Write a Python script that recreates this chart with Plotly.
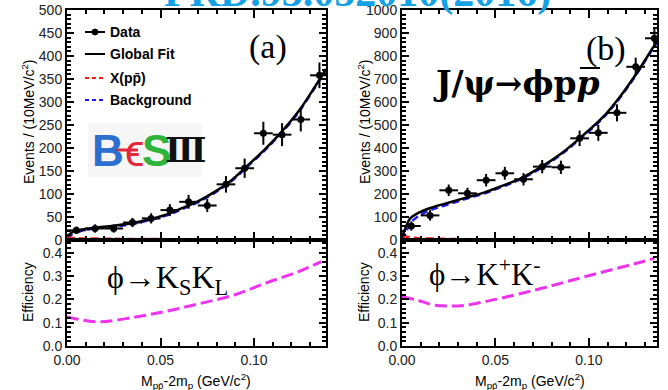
import plotly.graph_objects as go

W, H = 668, 390

# ---------------- spectra: events per 10 MeV/c^2 ----------------
bin_centers = [0.005, 0.015, 0.025, 0.035, 0.045, 0.055, 0.065,
               0.075, 0.085, 0.095, 0.105, 0.115, 0.125, 0.135]
bin_half_width = 0.005

events_kskl = [21, 25, 25, 38, 47, 65, 83, 75, 121, 156, 232, 229, 262, 358]
errors_kskl = [8, 9, 9, 10, 11, 13, 15, 14, 18, 21, 25, 25, 26, 28]

events_kk = [61, 107, 216, 203, 260, 290, 264, 319, 316, 442, 466, 553, 753, 877]
errors_kk = [20, 23, 25, 24, 27, 28, 27, 29, 29, 34, 35, 37, 40, 40]

# ---------------- fit components, phi -> Ks Kl ----------------
fit_x_kskl = [0.000, 0.003, 0.008, 0.015, 0.025, 0.035, 0.045, 0.055, 0.0608,
              0.070, 0.0787, 0.088, 0.0966, 0.1055, 0.1145, 0.1235, 0.1324, 0.1385]
fit_kskl = [8, 17, 23, 27, 31, 37, 46, 58, 68, 84, 104, 130, 162, 196, 234, 278, 332, 372]
bkg_kskl = [3, 13, 20, 25, 29, 35, 44, 56, 66, 82, 102, 128, 160, 194, 232, 276, 330, 370]
sig_kskl = [6, 4.5, 3.5, 3, 2.5, 2.2, 2, 1.8, 1.7, 1.6, 1.5, 1.4, 1.3, 1.2, 1.1, 1.0, 1.0, 0.9]

# ---------------- fit components, phi -> K+ K- ----------------
fit_x_kk = [0.000, 0.002, 0.0043, 0.0096, 0.0167, 0.0257, 0.0346, 0.0435, 0.0524,
            0.063, 0.0747, 0.085, 0.095, 0.1077, 0.1166, 0.1255, 0.1345, 0.1364]
fit_kk = [12, 55, 93, 121, 143, 164, 185, 205, 232, 266, 319, 375, 442, 536, 623, 725, 840, 864]
bkg_kk = [0, 30, 72, 108, 134, 157, 180, 201, 228, 262, 315, 371, 438, 532, 619, 721, 836, 860]
sig_kk = [18, 15, 12, 8, 6, 4.5, 3.5, 2.8, 2.2, 1.8, 1.4, 1.2, 1.0, 0.8, 0.7, 0.6, 0.5, 0.5]

# ---------------- selection efficiency ----------------
eff_x_kskl = [0.000, 0.005, 0.0177, 0.0357, 0.0536, 0.0715, 0.0894, 0.107, 0.125, 0.136]
eff_kskl = [0.126, 0.116, 0.104, 0.123, 0.150, 0.183, 0.219, 0.272, 0.323, 0.362]

eff_x_kk = [0.000, 0.0082, 0.017, 0.026, 0.035, 0.044, 0.053, 0.071, 0.088, 0.106, 0.124, 0.135]
eff_kk = [0.212, 0.197, 0.176, 0.172, 0.176, 0.190, 0.205, 0.240, 0.276, 0.315, 0.352, 0.376]

# ---------------- axis ranges ----------------
x_range_kskl = [0, 0.1385]
x_range_kk = [0, 0.1364]
y_range_kskl = [0, 500]
y_range_kk = [0, 1000]
eff_range = [0, 0.455]


def fx(px):
    return px / W


def fy(py):
    return 1 - py / H


FRAME = dict(showline=True, linecolor="black", linewidth=2, mirror="ticks",
             ticks="inside", tickcolor="black", tickwidth=1.5,
             showgrid=False, zeroline=False,
             tickfont=dict(family="Liberation Sans, Arial", size=14, color="#222"))

fig = go.Figure()

panels = [
    ("x", "y", fit_x_kskl, fit_kskl, bkg_kskl, sig_kskl, events_kskl, errors_kskl),
    ("x3", "y3", fit_x_kk, fit_kk, bkg_kk, sig_kk, events_kk, errors_kk),
]
for xa, ya, fxs, fit, bkg, sig, ev, er in panels:
    fig.add_trace(go.Scatter(x=fxs, y=bkg, mode="lines", xaxis=xa, yaxis=ya,
                             line=dict(color="#1a1aff", width=2.5, dash="7px,4px", shape="spline"),
                             showlegend=False))
    fig.add_trace(go.Scatter(x=fxs, y=sig, mode="lines", xaxis=xa, yaxis=ya,
                             line=dict(color="#ff1a1a", width=2.5, dash="8px,4px", shape="spline"),
                             showlegend=False))
    fig.add_trace(go.Scatter(x=fxs, y=fit, mode="lines", xaxis=xa, yaxis=ya,
                             line=dict(color="black", width=2.5, shape="spline"),
                             showlegend=False))
    fig.add_trace(go.Scatter(x=bin_centers, y=ev, mode="markers", xaxis=xa, yaxis=ya,
                             marker=dict(color="black", size=7),
                             error_x=dict(type="constant", value=bin_half_width, width=0,
                                          thickness=2, color="black"),
                             error_y=dict(type="data", array=er, width=0,
                                          thickness=2, color="black"),
                             showlegend=False))

for xa, ya, ex, ey in [("x2", "y2", eff_x_kskl, eff_kskl), ("x4", "y4", eff_x_kk, eff_kk)]:
    fig.add_trace(go.Scatter(x=ex, y=ey, mode="lines", xaxis=xa, yaxis=ya,
                             line=dict(color="#ee33ee", width=3, dash="12px,5px", shape="spline"),
                             showlegend=False))

left_dom = [fx(67), fx(326)]
right_dom = [fx(402), fx(657)]
upper_dom = [fy(240), fy(10)]
lower_dom = [fy(346), fy(240)]

xminor = dict(ticks="inside", dtick=0.01, ticklen=4, tickcolor="black")

fig.update_layout(
    width=W, height=H, margin=dict(l=0, r=0, t=0, b=0, autoexpand=False),
    paper_bgcolor="white", plot_bgcolor="white",
    xaxis=dict(FRAME, domain=left_dom, range=x_range_kskl, anchor="y", dtick=0.05,
               ticklen=8, minor=xminor, showticklabels=False),
    yaxis=dict(FRAME, domain=upper_dom, range=y_range_kskl, anchor="x", dtick=50,
               ticklen=7, minor=dict(ticks="inside", dtick=10, ticklen=4, tickcolor="black")),
    xaxis2=dict(FRAME, domain=left_dom, range=x_range_kskl, anchor="y2", dtick=0.05,
                ticklen=8, minor=xminor, tickformat=".2f"),
    yaxis2=dict(FRAME, domain=lower_dom, range=eff_range, anchor="x2", dtick=0.1,
                ticklen=7, tickformat=".1f",
                minor=dict(ticks="inside", dtick=0.02, ticklen=4, tickcolor="black")),
    xaxis3=dict(FRAME, domain=right_dom, range=x_range_kk, anchor="y3", dtick=0.05,
                ticklen=8, minor=xminor, showticklabels=False),
    yaxis3=dict(FRAME, domain=upper_dom, range=y_range_kk, anchor="x3", dtick=100,
                ticklen=7, minor=dict(ticks="inside", dtick=20, ticklen=4, tickcolor="black")),
    xaxis4=dict(FRAME, domain=right_dom, range=x_range_kk, anchor="y4", dtick=0.05,
                ticklen=8, minor=xminor, tickformat=".2f"),
    yaxis4=dict(FRAME, domain=lower_dom, range=eff_range, anchor="x4", dtick=0.1,
                ticklen=7, tickformat=".1f",
                minor=dict(ticks="inside", dtick=0.02, ticklen=4, tickcolor="black")),
)

SANS = "Liberation Sans, Arial"
SERIF = "Liberation Serif, DejaVu Serif, serif"
WIDE_SERIF = "DejaVu Serif, serif"
ann = []
shapes = []


def text(px, py, s, size, family=SANS, color="black", angle=0, xanchor="center", yanchor="middle"):
    ann.append(dict(x=fx(px), y=fy(py), xref="paper", yref="paper", text=s,
                    showarrow=False, textangle=angle, xanchor=xanchor, yanchor=yanchor,
                    font=dict(family=family, size=size, color=color)))


def hline(x0, x1, y, color, width, dash="solid"):
    shapes.append(dict(type="line", xref="paper", yref="paper", x0=fx(x0), x1=fx(x1),
                       y0=fy(y), y1=fy(y), line=dict(color=color, width=width, dash=dash)))


# axis titles
for cx in (28, 364):
    text(cx, 122, "Events / (10MeV/c<sup>2</sup>)", 14, angle=-90)
    text(cx, 292, "Efficiency", 14, angle=-90)
text(196, 381, "M<sub>pp\u0304</sub>-2m<sub>p</sub> (GeV/c<sup>2</sup>)", 14)
text(530, 381, "M<sub>pp\u0304</sub>-2m<sub>p</sub> (GeV/c<sup>2</sup>)", 14)

# publication reference along the top edge
text(357, 18, "<b>PRD.93.052010(2016)</b>", 42, family=SERIF, color="#14a2e6", yanchor="bottom")

# panel labels
text(268, 47, "(a)", 34, family=SERIF)
text(606, 49, "(b)", 34, family=SERIF)
text(602, 83, "<b>J/\u03c8\u2192\u03d5p<i>p</i></b>", 33, family=WIDE_SERIF, xanchor="right")
hline(580, 600, 68, "black", 2)
text(105, 279, "\u03d5\u2192K<sub>S</sub>K<sub>L</sub>", 32, family=SERIF, xanchor="left")
text(427, 272, "\u03d5\u2192K<sup>+</sup>K<sup>-</sup>", 31, family=SERIF, xanchor="left")

# legend of panel (a)
legend_rows = [("Data", 32, "black", "solid"), ("Global Fit", 54, "black", "solid"),
               ("X(pp\u0304)", 78, "#ff1a1a", "4px,3px"), ("Background", 100, "#1a1aff", "4px,3px")]
for label, ry, col, dash in legend_rows:
    hline(85, 105, ry, col, 2, dash)
    text(108, ry, "<b>" + label + "</b>", 14, xanchor="left")
shapes.append(dict(type="circle", xref="paper", yref="paper", x0=fx(92), x1=fx(98),
                   y0=fy(35), y1=fy(29), fillcolor="black", line=dict(color="black", width=1)))

# BESIII logo
shapes.append(dict(type="rect", xref="paper", yref="paper", x0=fx(88), x1=fx(202),
                   y0=fy(177), y1=fy(123), fillcolor="#f6f6f6", line=dict(width=0), layer="below"))
text(108, 150, "<b>B</b>", 44, family=SANS, color="#2b6fd0")
text(134, 151, "\u03f5", 44, family=SANS, color="#e3283c")
hline(100, 138, 150, "#e3283c", 3)
text(156, 150, "<b>S</b>", 44, family=SANS, color="#2fb33a")
text(186, 150, "<b>\u2162</b>", 34, family=SERIF, color="#111")

fig.update_layout(annotations=ann, shapes=shapes)
fig.write_html("out.html")
